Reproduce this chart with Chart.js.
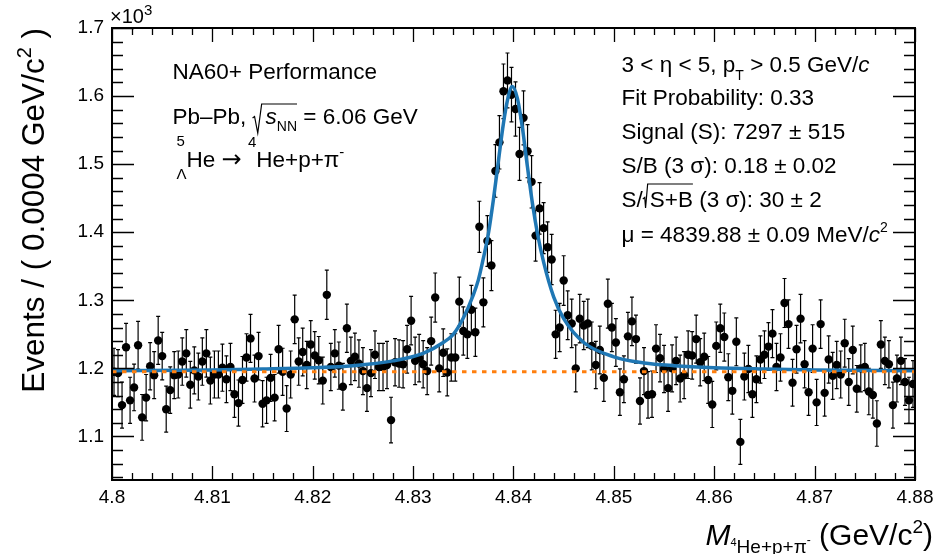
<!DOCTYPE html>
<html>
<head>
<meta charset="utf-8">
<script src="https://cdn.jsdelivr.net/npm/chart.js@4.4.1/dist/chart.umd.min.js"></script>
<style>
  body { margin: 0; background: #fff; }
  #wrap { width: 941px; height: 554px; }
</style>
</head>
<body>
<div id="wrap"><canvas id="myChart" width="941" height="554"></canvas></div>
<script>
// histogram binning (GeV/c^2)
var binLow = 4.80;
var binWidth = 0.0004;

// events per bin
var counts = [
  1195,1193,1146,1231,1153,1172,1234,1128,1157,1203,
  1190,1241,1218,1140,1168,1190,1191,1210,1222,1176,
  1197,1188,1210,1222,1182,1191,1191,1201,1184,1202,
  1162,1149,1183,1216,1244,1185,1218,1148,1153,1186,
  1157,1228,1195,1141,1191,1272,1210,1224,1205,1235,
  1219,1212,1182,1308,1202,1222,1204,1173,1259,1211,
  1217,1207,1196,1171,1193,1220,1202,1202,1205,1124,
  1209,1207,1206,1228,1270,1211,1215,1206,1196,1240,
  1304,1200,1223,1194,1216,1216,1298,1255,1250,1286,
  1253,1408,1297,1387,1351,1490,1532,1607,1623,1602,
  1581,1515,1568,1519,1474,1395,1435,1406,1378,1360,
  1250,1260,1329,1278,1266,1200,1273,1263,1266,1233,
  1205,1227,1186,1295,1260,1238,1165,1184,1247,1269,
  1243,1152,1196,1161,1162,1229,1215,1199,1171,1200,
  1211,1185,1190,1220,1219,1243,1209,1217,1183,1147,
  1233,1259,1246,1187,1167,1239,1092,1188,1199,1162,
  1184,1213,1220,1232,1251,1202,1216,1296,1265,1179,
  1228,1273,1206,1165,1229,1150,1265,1164,1213,1189,
  1205,1191,1237,1180,1227,1170,1200,1202,1166,1161,
  1119,1235,1211,1206,1146,1185,1211,1180,1153,1177
];

// fit curve (signal + background)
var fitX = [4.800,4.810,4.815,4.820,4.824,4.828,4.831,4.833,4.834,4.835,
            4.836,4.8365,4.837,4.8375,4.838,4.8385,4.839,4.8394,4.83988,4.8404,
            4.8409,4.8414,4.8419,4.8424,4.843,4.844,4.845,4.847,4.850,4.853,
            4.856,4.860,4.865,4.870,4.880];
var fitY = [1196.5,1197.5,1199,1201,1204,1211,1222,1238,1250,1274,
            1308,1330,1362,1398,1448,1505,1560,1594,1614,1596,
            1552,1495,1441,1397,1356,1305,1273,1238,1217,1208,
            1204,1201,1199,1197.5,1196.5];

// background level
var bkgX = [4.80, 4.88];
var bkgY = [1195, 1195];

var xTicks = [4.80,4.81,4.82,4.83,4.84,4.85,4.86,4.87,4.88];
var xTickLabels = ['4.8','4.81','4.82','4.83','4.84','4.85','4.86','4.87','4.88'];
var yTicks = [1100,1200,1300,1400,1500,1600,1700];
var yTickLabels = ['1.1','1.2','1.3','1.4','1.5','1.6','1.7'];

var FONT = "'Liberation Sans', Arial, Helvetica, sans-serif";

var points = counts.map(function(c, i) {
  return { x: binLow + (i + 0.5) * binWidth, y: c };
});

function setFont(ctx, p) {
  ctx.font = (p.i ? 'italic ' : '') + (p.s || 22.5) + 'px ' + (p.f || FONT);
}

// draw a run of text pieces (sub/superscripts, italics, square roots)
function richWidth(ctx, parts) {
  var w = 0;
  parts.forEach(function(p) {
    if (p.rad) { w += p.lead + richWidth(ctx, p.rad); return; }
    if (p.stack) {
      var m = 0;
      p.stack.forEach(function(q) { setFont(ctx, q); m = Math.max(m, ctx.measureText(q.t).width); });
      w += m; return;
    }
    setFont(ctx, p);
    w += ctx.measureText(p.t).width;
  });
  return w;
}
function rich(ctx, x, y, parts) {
  parts.forEach(function(p) {
    if (p.rad) {
      var x0 = x;
      var inner = richWidth(ctx, p.rad);
      ctx.beginPath();
      ctx.moveTo(x0, y + p.tip);
      ctx.lineTo(x0 + 2, y + p.tip - 1.5);
      ctx.lineTo(x0 + p.lead * 0.4, y + p.bot);
      ctx.lineTo(x0 + p.lead * 0.7, y + p.top);
      ctx.lineTo(x0 + p.lead + inner, y + p.top);
      ctx.lineWidth = 1.2;
      ctx.stroke();
      x = rich(ctx, x0 + p.lead, y, p.rad);
      return;
    }
    if (p.stack) {
      var m = 0;
      p.stack.forEach(function(q) {
        setFont(ctx, q);
        ctx.fillText(q.t, x, y + q.dy);
        m = Math.max(m, ctx.measureText(q.t).width);
      });
      x += m; return;
    }
    setFont(ctx, p);
    ctx.fillText(p.t, x, y + (p.dy || 0));
    x += ctx.measureText(p.t).width;
  });
  return x;
}

function minorTicks(ticks, min, max) {
  var step = (ticks[1] - ticks[0]) / 5;
  var out = [];
  var v = ticks[0];
  while (v - step >= min - 1e-9) v -= step;
  for (; v <= max + 1e-9; v += step) out.push(v);
  return out;
}

var rootStyle = {
  id: 'rootStyle',
  beforeDatasetsDraw: function(chart) {
    var ctx = chart.ctx, xs = chart.scales.x, ys = chart.scales.y, a = chart.chartArea;
    ctx.save();
    ctx.beginPath();
    ctx.rect(a.left, a.top, a.right - a.left, a.bottom - a.top);
    ctx.clip();
    ctx.strokeStyle = '#000';
    ctx.lineWidth = 1.2;
    ctx.beginPath();
    points.forEach(function(p) {
      var px = xs.getPixelForValue(p.x);
      var e = Math.sqrt(p.y);
      var y1 = ys.getPixelForValue(p.y - e), y2 = ys.getPixelForValue(p.y + e);
      ctx.moveTo(px, y1); ctx.lineTo(px, y2);
      ctx.moveTo(px - 2, y1); ctx.lineTo(px + 2, y1);
      ctx.moveTo(px - 2, y2); ctx.lineTo(px + 2, y2);
    });
    ctx.stroke();
    ctx.restore();
  },
  afterDraw: function(chart) {
    var ctx = chart.ctx, xs = chart.scales.x, ys = chart.scales.y, a = chart.chartArea;
    ctx.save();
    ctx.strokeStyle = '#000';
    ctx.fillStyle = '#000';

    // frame
    ctx.lineWidth = 2;
    ctx.strokeRect(a.left, a.top, a.right - a.left, a.bottom - a.top);

    // inward ticks on all four sides
    ctx.lineWidth = 1.3;
    ctx.beginPath();
    minorTicks(xTicks, xs.min, xs.max).forEach(function(v) {
      var major = xTicks.some(function(t) { return Math.abs(t - v) < 1e-7; });
      var px = Math.round(xs.getPixelForValue(v)) + 0.5;
      var len = major ? 14 : 7;
      ctx.moveTo(px, a.bottom); ctx.lineTo(px, a.bottom - len);
      ctx.moveTo(px, a.top); ctx.lineTo(px, a.top + len);
    });
    minorTicks(yTicks, ys.min, ys.max).forEach(function(v) {
      var major = yTicks.some(function(t) { return Math.abs(t - v) < 1e-6; });
      var py = Math.round(ys.getPixelForValue(v)) + 0.5;
      var len = major ? 22 : 11;
      ctx.moveTo(a.left, py); ctx.lineTo(a.left + len, py);
      ctx.moveTo(a.right, py); ctx.lineTo(a.right - len, py);
    });
    ctx.stroke();

    ctx.textBaseline = 'alphabetic';
    ctx.textAlign = 'left';

    // x10^3 exponent
    rich(ctx, 110, 23, [{ t: '\u00d710', s: 20 }, { t: '3', s: 15, dy: -8 }]);

    // axis titles
    var xt = [{ t: 'M', s: 30, i: true }, { t: '4', s: 11, dy: 1 }, { t: 'He+p+\u03c0', s: 19, dy: 8 },
              { t: '-', s: 12, dy: -1 }, { t: ' (GeV/c', s: 30 }, { t: '2', s: 19, dy: -12 }, { t: ')', s: 30 }];
    rich(ctx, 933 - richWidth(ctx, xt), 545, xt);

    var yt = [{ t: 'Events / ( 0.0004 GeV/c', s: 31.5 }, { t: '2', s: 20, dy: -13 }, { t: ' )', s: 31.5 }];
    ctx.save();
    ctx.translate(44, 28);
    ctx.rotate(-Math.PI / 2);
    rich(ctx, -richWidth(ctx, yt), 0, yt);
    ctx.restore();

    // left annotations
    rich(ctx, 172.5, 79, [{ t: 'NA60+ Performance' }]);
    rich(ctx, 172.5, 124, [{ t: 'Pb\u2013Pb, ' },
      { rad: [{ t: 's', i: true }, { t: 'NN', s: 14, dy: 7 }], lead: 13, tip: -6, bot: 9, top: -20 },
      { t: ' = 6.06 GeV' }]);
    rich(ctx, 176.5, 167, [{ stack: [{ t: '5', s: 15, dy: -21 }, { t: '\u039b', s: 15, dy: 12 }] },
      { t: 'He ' }, { t: '\u2192', f: "'DejaVu Sans', sans-serif", s: 24 }, { t: ' ' },
      { t: '4', s: 15, dy: -20 }, { t: 'He+p+\u03c0' }, { t: '-', s: 15, dy: -10 }]);

    // right annotations
    var rx = 621.5;
    rich(ctx, rx, 72, [{ t: '3 < \u03b7 < 5, p' }, { t: 'T', s: 14, dy: 8 }, { t: ' > 0.5 GeV/' }, { t: 'c', i: true }]);
    rich(ctx, rx, 105, [{ t: 'Fit Probability: 0.33' }]);
    rich(ctx, rx, 139, [{ t: 'Signal (S): 7297 \u00b1 515' }]);
    rich(ctx, rx, 173, [{ t: 'S/B (3 \u03c3): 0.18 \u00b1 0.02' }]);
    rich(ctx, rx, 207, [{ t: 'S/' },
      { rad: [{ t: 'S+B' }], lead: 7, tip: -8, bot: 1, top: -23 },
      { t: ' (3 \u03c3): 30 \u00b1 2' }]);
    rich(ctx, rx, 241.5, [{ t: '\u03bc = 4839.88 \u00b1 0.09 MeV/' }, { t: 'c', i: true }, { t: '2', s: 14, dy: -10 }]);

    ctx.restore();
  }
};

new Chart(document.getElementById('myChart'), {
  type: 'scatter',
  data: {
    datasets: [
      {
        type: 'line',
        data: bkgX.map(function(x, i) { return { x: x, y: bkgY[i] }; }),
        borderColor: '#ff7f0e',
        borderWidth: 3,
        borderDash: [4.5, 5.5],
        pointRadius: 0
      },
      {
        type: 'line',
        data: fitX.map(function(x, i) { return { x: x, y: fitY[i] }; }),
        borderColor: '#1f77b4',
        borderWidth: 3.5,
        pointRadius: 0,
        cubicInterpolationMode: 'monotone'
      },
      {
        data: points,
        backgroundColor: '#000',
        borderWidth: 0,
        pointRadius: 4.2
      }
    ]
  },
  options: {
    responsive: false,
    animation: false,
    devicePixelRatio: 1,
    layout: { padding: { left: 0, right: 26, top: 28, bottom: 0 } },
    plugins: { legend: { display: false }, tooltip: { enabled: false } },
    scales: {
      x: {
        type: 'linear',
        min: 4.80,
        max: 4.88,
        grid: { display: false, drawTicks: false },
        border: { display: false },
        afterBuildTicks: function(s) { s.ticks = xTicks.map(function(v) { return { value: v }; }); },
        afterFit: function(s) { s.height = 74; },
        ticks: {
          autoSkip: false,
          maxRotation: 0,
          padding: 6,
          color: '#000',
          font: { family: FONT, size: 19 },
          callback: function(v, i) { return xTickLabels[i]; }
        }
      },
      y: {
        type: 'linear',
        min: 1036,
        max: 1700,
        grid: { display: false, drawTicks: false },
        border: { display: false },
        afterBuildTicks: function(s) { s.ticks = yTicks.map(function(v) { return { value: v }; }); },
        afterFit: function(s) { s.width = 112; },
        ticks: {
          autoSkip: false,
          padding: 8,
          color: '#000',
          font: { family: FONT, size: 19 },
          callback: function(v, i) { return yTickLabels[i]; }
        }
      }
    }
  },
  plugins: [rootStyle]
});
</script>
</body>
</html>
